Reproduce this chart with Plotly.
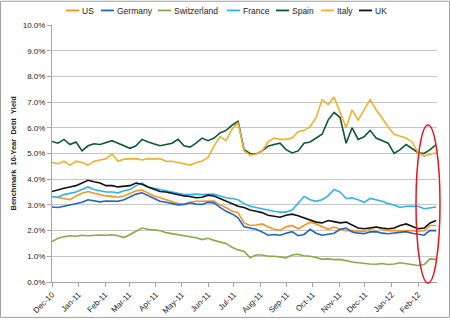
import pandas as pd
import plotly.graph_objects as go

# Weekly observation dates (Dec 2010 - Feb 2012)
dates = pd.date_range("2010-12-01", periods=65, freq="7D")

us = [3.33, 3.30, 3.25, 3.20, 3.35, 3.45, 3.52, 3.45, 3.40, 3.35, 3.33, 3.30, 3.35, 3.45, 3.55, 3.58,
      3.45, 3.35, 3.28, 3.20, 3.10, 3.05, 3.02, 3.10, 3.14, 3.15, 3.14, 3.15, 3.00, 2.90, 2.75, 2.70,
      2.30, 2.20, 2.22, 2.26, 2.15, 2.05, 2.01, 2.15, 2.20, 2.07, 2.20, 2.33, 2.26, 2.14, 2.05, 2.14,
      2.05, 2.00, 2.01, 1.98, 1.96, 2.05, 2.14, 2.05, 2.00, 2.01, 1.98, 2.00, 2.00, 1.97, 2.00, 2.20, 2.20]
germany = [2.92, 2.90, 2.95, 3.00, 3.05, 3.10, 3.20, 3.15, 3.12, 3.15, 3.14, 3.14, 3.20, 3.30, 3.42, 3.47,
           3.35, 3.25, 3.14, 3.10, 3.05, 3.00, 3.02, 3.08, 3.03, 3.02, 3.10, 3.08, 2.90, 2.75, 2.65, 2.50,
           2.15, 2.10, 2.05, 1.95, 1.82, 1.85, 1.82, 1.90, 1.96, 1.80, 1.85, 2.05, 1.90, 1.82, 1.85, 1.90,
           2.05, 2.10, 1.95, 1.90, 1.88, 1.95, 1.96, 1.90, 1.88, 1.90, 1.92, 1.96, 1.90, 1.85, 1.82, 2.01, 2.00]
switzerland = [1.57, 1.70, 1.76, 1.80, 1.78, 1.82, 1.80, 1.82, 1.83, 1.82, 1.84, 1.80, 1.73, 1.85, 1.98, 2.10,
               2.05, 2.02, 2.00, 1.92, 1.88, 1.85, 1.80, 1.78, 1.72, 1.65, 1.70, 1.62, 1.57, 1.50, 1.35, 1.25,
               1.20, 0.94, 1.05, 1.05, 1.00, 1.00, 0.97, 0.94, 1.05, 1.08, 1.02, 1.00, 0.95, 0.88, 0.90, 0.87,
               0.88, 0.82, 0.78, 0.75, 0.72, 0.70, 0.69, 0.72, 0.68, 0.70, 0.75, 0.72, 0.67, 0.64, 0.68, 0.90, 0.88]
france = [3.33, 3.30, 3.40, 3.45, 3.50, 3.60, 3.70, 3.60, 3.55, 3.50, 3.50, 3.47, 3.55, 3.60, 3.75, 3.85,
          3.70, 3.65, 3.58, 3.55, 3.50, 3.45, 3.40, 3.40, 3.42, 3.40, 3.40, 3.42, 3.35, 3.28, 3.25, 3.20,
          3.05, 2.95, 2.90, 2.85, 2.78, 2.75, 2.72, 2.72, 2.80, 3.05, 3.33, 3.20, 3.14, 3.20, 3.35, 3.60,
          3.50, 3.25, 3.28, 3.20, 3.10, 3.25, 3.20, 3.14, 3.05, 3.00, 2.90, 2.95, 2.95, 2.95, 2.85, 2.88, 2.92]
spain = [5.47, 5.40, 5.55, 5.35, 5.45, 5.10, 5.30, 5.38, 5.35, 5.42, 5.50, 5.40, 5.30, 5.20, 5.30, 5.55,
         5.45, 5.38, 5.30, 5.35, 5.40, 5.55, 5.30, 5.25, 5.40, 5.60, 5.50, 5.60, 5.80, 5.90, 6.10, 6.25,
         5.15, 5.00, 4.98, 5.10, 5.28, 5.35, 5.40, 5.15, 5.02, 5.10, 5.40, 5.45, 5.60, 5.75, 6.30, 6.60,
         6.40, 5.40, 6.00, 5.55, 5.65, 5.90, 5.60, 5.50, 5.40, 5.00, 5.15, 5.35, 5.20, 5.03, 5.00, 5.15, 5.35]
italy = [4.65, 4.60, 4.70, 4.55, 4.70, 4.65, 4.55, 4.70, 4.75, 4.80, 4.98, 4.70, 4.78, 4.80, 4.80, 4.75,
         4.80, 4.78, 4.80, 4.70, 4.70, 4.65, 4.60, 4.55, 4.65, 4.70, 4.85, 5.30, 5.66, 5.50, 5.95, 6.20,
         5.10, 4.94, 4.98, 5.10, 5.45, 5.60, 5.55, 5.55, 5.60, 5.85, 5.90, 6.04, 6.40, 7.10, 6.90, 7.20,
         6.60, 6.00, 6.70, 6.30, 6.70, 7.10, 6.70, 6.35, 6.04, 5.75, 5.66, 5.60, 5.45, 5.03, 4.90, 4.98, 5.03]
uk = [3.52, 3.60, 3.65, 3.70, 3.75, 3.85, 3.96, 3.90, 3.85, 3.75, 3.75, 3.70, 3.72, 3.75, 3.85, 3.80,
      3.70, 3.60, 3.52, 3.50, 3.45, 3.40, 3.35, 3.33, 3.28, 3.30, 3.38, 3.35, 3.25, 3.14, 3.05, 2.95,
      2.90, 2.80, 2.75, 2.70, 2.60, 2.55, 2.52, 2.60, 2.64, 2.58, 2.50, 2.40, 2.33, 2.30, 2.39, 2.35,
      2.30, 2.33, 2.20, 2.10, 2.07, 2.10, 2.14, 2.10, 2.07, 2.10, 2.20, 2.26, 2.15, 2.07, 2.10, 2.30, 2.39]

series_names = ["US", "Germany", "Switzerland", "France", "Spain", "Italy", "UK"]
series_values = [us, germany, switzerland, france, spain, italy, uk]
series_colors = ["#F7931E", "#1F64C8", "#86AD45", "#2EB2EE", "#0E5639", "#EFB130", "#111111"]

y_ticks = [i / 100 for i in range(0, 11)]
x_ticks = pd.date_range("2010-12-01", "2012-02-01", freq="MS")

W, H = 450, 327
L, R, T, B = 52, 13, 25, 37
pw, ph = W - L - R, H - T - B


def px(x):
    return (x - L) / pw


def py(y):
    return (H - B - y) / ph


fig = go.Figure()
for name, vals, col in zip(series_names, series_values, series_colors):
    fig.add_trace(go.Scatter(x=dates, y=[v / 100 for v in vals], name=name, mode="lines",
                             line=dict(color=col, width=1.6), showlegend=False))

fig.update_layout(
    width=W, height=H, margin=dict(l=L, r=R, t=T, b=B),
    paper_bgcolor="white", plot_bgcolor="white",
    font=dict(family="Liberation Sans, Arial, sans-serif", size=8, color="#222222"),
    showlegend=False,
    xaxis=dict(type="date", range=["2010-12-01", "2012-02-23"], tickvals=list(x_ticks),
               tickformat="%b-%y", tickangle=-45, showgrid=False, showline=True,
               linecolor="#A6A6A6", linewidth=1, ticks="outside", ticklen=4, tickcolor="#A6A6A6",
               tickfont=dict(size=8), zeroline=False),
    yaxis=dict(range=[0, 0.1], tickvals=y_ticks, tickformat=".1%", showgrid=True,
               gridcolor="#C6C6C6", gridwidth=1, showline=True, linecolor="#A6A6A6", linewidth=1,
               ticks="outside", ticklen=4, tickcolor="#A6A6A6", tickfont=dict(size=8), zeroline=False),
)

# custom compact legend (Excel style: short line + label)
legend_x = [66, 101, 158, 227, 276, 321, 359]
for name, col, lx in zip(series_names, series_colors, legend_x):
    fig.add_shape(type="line", xref="paper", yref="paper", x0=px(lx), x1=px(lx + 13),
                  y0=py(10), y1=py(10), line=dict(color=col, width=1.8))
    fig.add_annotation(text=name, xref="paper", yref="paper", x=px(lx + 14), y=py(10.5),
                       xanchor="left", yanchor="middle", showarrow=False,
                       font=dict(size=8.5, color="#222222"))

fig.add_annotation(text="<b>Benchmark  10-Year  Debt  Yield</b>", xref="paper", yref="paper",
                   x=px(13), y=0.5, textangle=-90, showarrow=False, font=dict(size=7.5),
                   xanchor="center", yanchor="middle")

# red highlight ellipse
fig.add_shape(type="circle", xref="paper", yref="paper", x0=px(416), x1=px(440),
              y0=py(291), y1=py(128), line=dict(color="#E8141B", width=1.5))
# outer frame
fig.add_shape(type="rect", xref="paper", yref="paper", x0=px(0.5), x1=px(449.5),
              y0=py(326.5), y1=py(0.5), line=dict(color="#A0A0A0", width=1))

fig.write_html("out.html")
